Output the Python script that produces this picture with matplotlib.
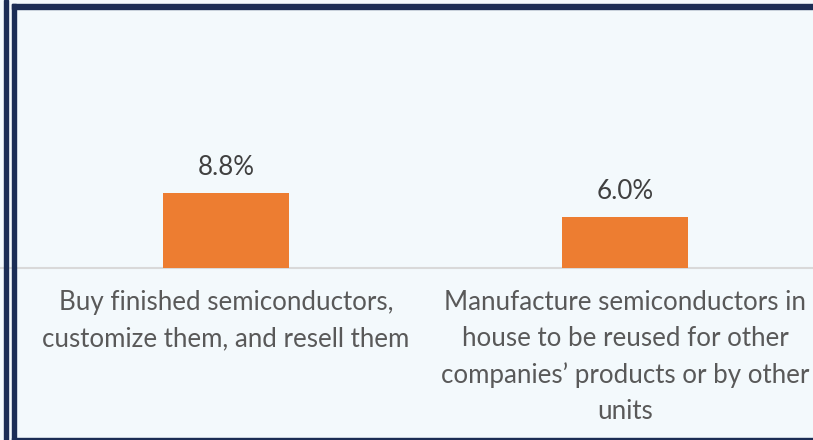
import matplotlib.pyplot as plt
from matplotlib.patches import Rectangle

# Share of companies by semiconductor sourcing approach
categories = ['Buy finished semiconductors,\ncustomize them, and resell them',
              'Manufacture semiconductors in\nhouse to be reused for other\ncompanies\u2019 products or by other\nunits']
shares = [8.8, 6.0]

W, H = 813, 440
bg = '#f3f9fc'
navy = '#1b2d55'
bar_color = '#ed7d31'

plt.rcParams['font.family'] = ['Lato', 'DejaVu Sans']

fig = plt.figure(figsize=(W / 100, H / 100), dpi=100, facecolor=bg)

# plot area: baseline at y=268px, top at 9px
ax = fig.add_axes([0, (H - 268) / H, 1, (268 - 9) / H])
ax.set_facecolor('none')

x = list(range(len(categories)))
ax.bar(x, shares, width=126 / 399, color=bar_color, zorder=3)

ax.set_xlim(-226 / 399, (W - 226) / 399)
ax.set_ylim(0, (268 - 9) / 8.56)

for xi, v in zip(x, shares):
    ax.annotate(f'{v:.1f}%', (xi, v), xytext=(0, 9), textcoords='offset points',
                ha='center', va='bottom', fontsize=18.7, color='#404040')

ax.set_xticks(x)
ax.set_xticklabels(categories, fontsize=18.6, color='#595959', linespacing=1.55)
ax.tick_params(axis='x', length=0, pad=16)
ax.set_yticks([])
for s in ['top', 'right', 'left']:
    ax.spines[s].set_visible(False)
ax.spines['bottom'].set_color('#d9d9d9')
ax.spines['bottom'].set_linewidth(1.5)

# navy frame lines around the panel (pixel coordinates)
def px_rect(x0, y0, x1, y1):
    fig.patches.append(Rectangle((x0 / W, 1 - y1 / H), (x1 - x0) / W, (y1 - y0) / H,
                                 transform=fig.transFigure, color=navy, zorder=10))

px_rect(4, 0, 8, H)
px_rect(12, 4, 16, H)
px_rect(12, 4, W, 9)
px_rect(12, 437.5, W, H)

fig.savefig('out.png', dpi=100, facecolor=bg)
